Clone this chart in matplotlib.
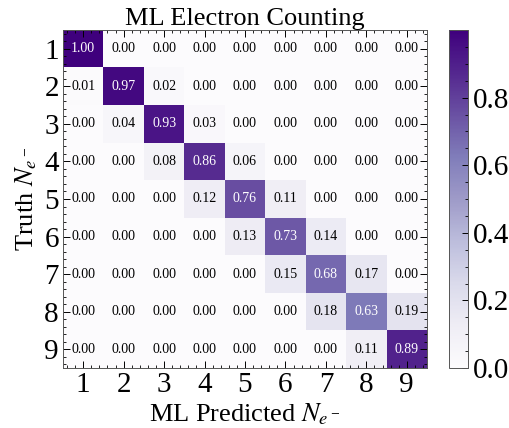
import numpy as np
import matplotlib
matplotlib.use("Agg")
import matplotlib.pyplot as plt
from matplotlib.ticker import AutoMinorLocator, MultipleLocator

plt.rcParams['font.family'] = ['Liberation Serif', 'DejaVu Serif']
plt.rcParams['mathtext.fontset'] = 'stix'

labels = ['1', '2', '3', '4', '5', '6', '7', '8', '9']
matrix = [
    [1.00, 0.00, 0.00, 0.00, 0.00, 0.00, 0.00, 0.00, 0.00],
    [0.01, 0.97, 0.02, 0.00, 0.00, 0.00, 0.00, 0.00, 0.00],
    [0.00, 0.04, 0.93, 0.03, 0.00, 0.00, 0.00, 0.00, 0.00],
    [0.00, 0.00, 0.08, 0.86, 0.06, 0.00, 0.00, 0.00, 0.00],
    [0.00, 0.00, 0.00, 0.12, 0.76, 0.11, 0.00, 0.00, 0.00],
    [0.00, 0.00, 0.00, 0.00, 0.13, 0.73, 0.14, 0.00, 0.00],
    [0.00, 0.00, 0.00, 0.00, 0.00, 0.15, 0.68, 0.17, 0.00],
    [0.00, 0.00, 0.00, 0.00, 0.00, 0.00, 0.18, 0.63, 0.19],
    [0.00, 0.00, 0.00, 0.00, 0.00, 0.00, 0.00, 0.11, 0.89],
]
cbar_ticks = [0.0, 0.2, 0.4, 0.6, 0.8]

data = np.array(matrix)
fig = plt.figure(figsize=(5.1, 4.28), dpi=100)
ax = fig.add_axes([63/510, 1 - 368/428, (427-63)/510, (368-30)/428])
cax = fig.add_axes([449/510, 1 - 368/428, 19/510, (368-30)/428])

im = ax.imshow(data, cmap='Purples', vmin=0, vmax=1.0, aspect='auto')
n = len(labels)
for i in range(n):
    for j in range(n):
        v = data[i, j]
        ax.text(j, i, f"{v:.2f}", ha='center', va='center', fontsize=10,
                color='white' if v > 0.5 else 'black')

ax.set_xticks(range(n))
ax.set_yticks(range(n))
ax.set_xticklabels(labels, fontsize=21)
ax.set_yticklabels(labels, fontsize=21)
ax.xaxis.set_minor_locator(AutoMinorLocator(5))
ax.yaxis.set_minor_locator(AutoMinorLocator(5))
ax.tick_params(which='both', direction='in', top=True, right=True, pad=3)
ax.tick_params(which='major', length=5, width=0.7)
ax.tick_params(which='minor', length=2.5, width=0.6)
for s in ax.spines.values():
    s.set_linewidth(0.7)
    s.set_color('#555555')

ax.set_title('ML Electron Counting', fontsize=19, pad=3)
ax.set_xlabel('ML Predicted $N_{e^-}$', fontsize=19, labelpad=2)
ax.set_ylabel('Truth $N_{e^-}$', fontsize=19, labelpad=4)

cb = fig.colorbar(im, cax=cax, ticks=cbar_ticks)
cb.ax.tick_params(labelsize=21, direction='in', length=4, width=0.7)
cb.ax.yaxis.set_minor_locator(MultipleLocator(0.05))
cb.ax.tick_params(which='minor', direction='in', length=2, width=0.6)
cb.outline.set_linewidth(0.7)
cb.outline.set_edgecolor('#555555')

fig.savefig('out.png', dpi=100)
